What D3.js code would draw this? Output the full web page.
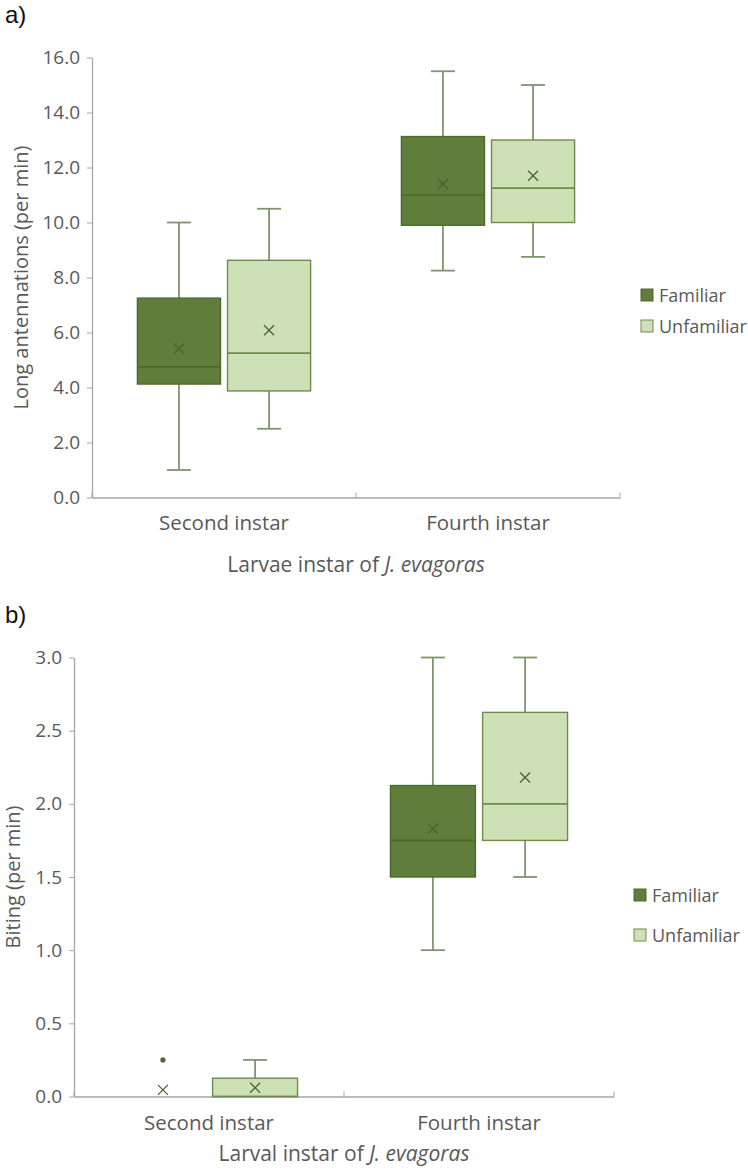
<!DOCTYPE html>
<html>
<head>
<meta charset="utf-8">
<script src="https://cdn.jsdelivr.net/npm/d3@7"></script>
<style>
  body { margin: 0; background: #fff; }
  text { font-family: "Open Sans", "Noto Sans", sans-serif; }
</style>
</head>
<body>
<script>
// --- data ---
const instars = ["Second instar", "Fourth instar"];
const groups = ["Familiar", "Unfamiliar"];

// box stats per instar: [min, q1, median, q3, max, mean]
const antennaFamiliar = [[1.0, 4.125, 4.75, 7.25, 10.0, 5.41], [8.25, 9.9, 11.0, 13.125, 15.5, 11.4]];
const antennaUnfamiliar = [[2.5, 3.875, 5.25, 8.625, 10.5, 6.08], [8.75, 10.0, 11.25, 13.0, 15.0, 11.7]];
const antennaTicks = [0, 2, 4, 6, 8, 10, 12, 14, 16];

const bitingFamiliar = [[0, 0, 0, 0, 0, 0.045], [1.0, 1.5, 1.75, 2.125, 3.0, 1.83]];
const bitingUnfamiliar = [[0, 0, 0, 0.125, 0.25, 0.06], [1.5, 1.75, 2.0, 2.625, 3.0, 2.18]];
const bitingFamiliarOutliers = [[0.25], []];
const bitingUnfamiliarOutliers = [[], []];
const bitingTicks = [0, 0.5, 1.0, 1.5, 2.0, 2.5, 3.0];

const fills = { Familiar: "#607d3b", Unfamiliar: "#cde0b6" };
const strokes = { Familiar: "#4d6a2c", Unfamiliar: "#6e8b4c" };
const whiskerColor = "#7f9471";
const meanColor = "#4b6333";
const axisGray = "#a6a6a6";
const textGray = "#595959";

const svg = d3.select("body").append("svg")
  .attr("width", 748)
  .attr("height", 1176);

function drawPanel(cfg) {
  const g = svg.append("g");

  const y = d3.scaleLinear().domain(cfg.domain).range([cfg.bottom, cfg.top]);
  const x = d3.scaleBand().domain(instars).range([cfg.left, cfg.right]);
  const bw = x.bandwidth();
  const inner = d3.scaleBand().domain(groups)
    .range([bw * 0.172, bw * 0.828]).paddingInner(0.078);

  // panel letter
  g.append("text")
    .attr("x", 5).attr("y", cfg.letterY)
    .style("font-family", "'Liberation Sans', Arial, sans-serif")
    .style("font-size", "24px")
    .attr("fill", "#111")
    .text(cfg.letter);

  // y axis
  const yAxis = g.append("g")
    .attr("transform", `translate(${cfg.left},0)`)
    .call(d3.axisLeft(y).tickValues(cfg.ticks).tickFormat(d3.format(".1f"))
      .tickSize(5).tickSizeOuter(0).tickPadding(7));
  yAxis.select(".domain").attr("stroke", axisGray).attr("stroke-width", 1.3);
  yAxis.selectAll(".tick line").attr("stroke", axisGray);
  yAxis.selectAll(".tick text")
    .attr("fill", textGray)
    .style("font-size", "19px");

  // x axis
  const xAxis = g.append("g")
    .attr("transform", `translate(0,${cfg.bottom})`)
    .call(d3.axisBottom(x).tickSize(0).tickPadding(cfg.xPad));
  xAxis.select(".domain").attr("stroke", axisGray).attr("stroke-width", 1.3);
  xAxis.selectAll(".tick text")
    .attr("fill", textGray)
    .style("font-size", "20.5px");
  // category boundary ticks
  g.selectAll(".cat-tick")
    .data([cfg.left, x(instars[1]), cfg.right])
    .enter().append("line")
    .attr("x1", d => d).attr("x2", d => d)
    .attr("y1", cfg.bottom).attr("y2", cfg.bottom - 5)
    .attr("stroke", axisGray);

  // axis titles
  const xt = g.append("text")
    .attr("x", (cfg.left + cfg.right) / 2)
    .attr("y", cfg.xTitleY)
    .attr("text-anchor", "middle")
    .attr("fill", textGray)
    .style("font-size", "21px");
  xt.append("tspan").text(cfg.xTitle + " ");
  xt.append("tspan").style("font-style", "italic").text("J. evagoras");

  g.append("text")
    .attr("transform", `translate(${cfg.yTitleX},${(cfg.top + cfg.bottom) / 2}) rotate(-90)`)
    .attr("text-anchor", "middle")
    .attr("fill", textGray)
    .style("font-size", "20px")
    .text(cfg.yTitle);

  // boxes
  groups.forEach((grp, gi) => {
    const stats = cfg.series[gi];
    const outliers = cfg.outliers[gi];
    const w = inner.bandwidth();
    instars.forEach((inst, i) => {
      const [mn, q1, md, q3, mx, mean] = stats[i];
      const x0 = x(inst) + inner(grp);
      const cx = x0 + w / 2;
      const bg = g.append("g");

      // whiskers
      if (mx > q3) {
        bg.append("line").attr("x1", cx).attr("x2", cx)
          .attr("y1", y(q3)).attr("y2", y(mx))
          .attr("stroke", whiskerColor).attr("stroke-width", 1.8);
        bg.append("line").attr("x1", cx - 12).attr("x2", cx + 12)
          .attr("y1", y(mx)).attr("y2", y(mx))
          .attr("stroke", whiskerColor).attr("stroke-width", 1.8);
      }
      if (mn < q1) {
        bg.append("line").attr("x1", cx).attr("x2", cx)
          .attr("y1", y(q1)).attr("y2", y(mn))
          .attr("stroke", whiskerColor).attr("stroke-width", 1.8);
        bg.append("line").attr("x1", cx - 12).attr("x2", cx + 12)
          .attr("y1", y(mn)).attr("y2", y(mn))
          .attr("stroke", whiskerColor).attr("stroke-width", 1.8);
      }

      // box
      if (q3 > q1) {
        bg.append("rect")
          .attr("x", x0).attr("width", w)
          .attr("y", y(q3)).attr("height", y(q1) - y(q3))
          .attr("fill", fills[grp])
          .attr("stroke", strokes[grp]).attr("stroke-width", 1.4);
        bg.append("line")
          .attr("x1", x0).attr("x2", x0 + w)
          .attr("y1", y(md)).attr("y2", y(md))
          .attr("stroke", strokes[grp]).attr("stroke-width", 1.6);
      }

      // mean marker
      const s = 5;
      const my = y(mean);
      bg.append("path")
        .attr("d", `M${cx - s},${my - s}L${cx + s},${my + s}M${cx - s},${my + s}L${cx + s},${my - s}`)
        .attr("stroke", meanColor).attr("stroke-width", 1.3).attr("fill", "none");

      // outliers
      bg.selectAll("circle").data(outliers[i]).enter().append("circle")
        .attr("cx", cx).attr("cy", d => y(d)).attr("r", 2.6)
        .attr("fill", strokes[grp]);
    });
  });

  // legend
  const lg = g.append("g").attr("transform", `translate(${cfg.legendX},${cfg.legendY})`);
  groups.forEach((grp, i) => {
    const row = lg.append("g").attr("transform", `translate(0,${i * cfg.legendStep})`);
    row.append("rect").attr("x", 0).attr("y", 0).attr("width", 12).attr("height", 12)
      .attr("fill", fills[grp]).attr("stroke", strokes[grp]).attr("stroke-width", 1);
    row.append("text").attr("x", 18).attr("y", 12.5)
      .attr("fill", textGray).style("font-size", "18px").text(grp);
  });
}

drawPanel({
  letter: "a)", letterY: 23,
  domain: [0, 16], ticks: antennaTicks,
  top: 57.5, bottom: 497.5, left: 92, right: 620,
  xPad: 18, xTitle: "Larvae instar of", xTitleY: 572,
  yTitle: "Long antennations (per min)", yTitleX: 28,
  series: [antennaFamiliar, antennaUnfamiliar],
  outliers: [[[], []], [[], []]],
  legendX: 641, legendY: 289, legendStep: 31
});

drawPanel({
  letter: "b)", letterY: 623,
  domain: [0, 3], ticks: bitingTicks,
  top: 657.5, bottom: 1096.5, left: 74, right: 614,
  xPad: 19, xTitle: "Larval instar of", xTitleY: 1161,
  yTitle: "Biting (per min)", yTitleX: 20,
  series: [bitingFamiliar, bitingUnfamiliar],
  outliers: [bitingFamiliarOutliers, bitingUnfamiliarOutliers],
  legendX: 634, legendY: 889, legendStep: 40
});
</script>
</body>
</html>
